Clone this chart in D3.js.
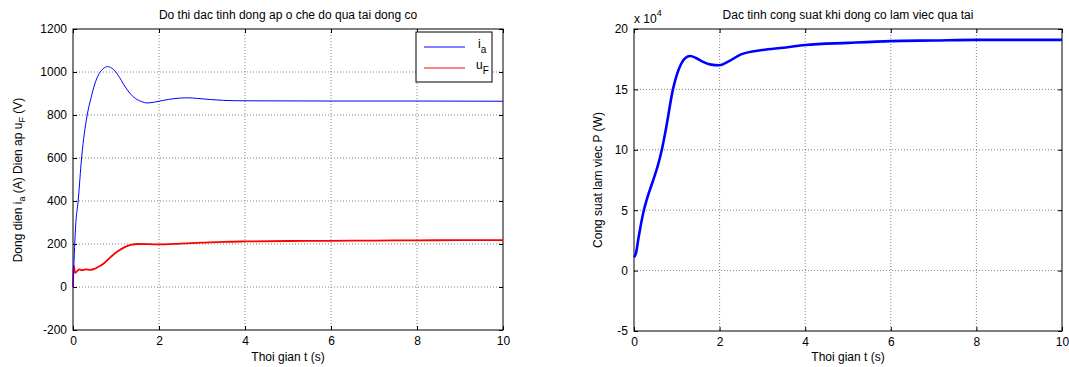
<!DOCTYPE html>
<meta charset="utf-8">
<style>
body { margin: 0; background: #fff; }
svg { display: block; font-family: "Liberation Sans", Arial, sans-serif; }
.grid line { stroke: #666; stroke-dasharray: 1,2; stroke-width: 0.8; }
.tick text { font-size: 12px; fill: #000; }
</style>
<body>
<script src="https://d3js.org/d3.v7.min.js"></script>
<script>

var width = 1069, height = 367;

// time axis ticks
var xTicks = [0, 2, 4, 6, 8, 10];

// left chart: current i_a (A) and voltage u_F (V)
var iaT = [0, 0.03, 0.06, 0.12, 0.2, 0.33, 0.42, 0.5, 0.6, 0.7, 0.8, 0.9, 1.05, 1.2, 1.4, 1.6, 1.72, 1.9, 2.1, 2.35, 2.65, 2.9, 3.2, 3.5, 4, 6, 8, 10];
var iaV = [0, 150, 280, 400, 600, 800, 880, 940, 990, 1015, 1025, 1018, 985, 935, 885, 862, 856, 860, 868, 876, 880, 877, 872, 868, 866, 865, 865, 864];
var uT = [0, 0.01, 0.02, 0.05, 0.1, 0.15, 0.2, 0.3, 0.4, 0.5, 0.6, 0.7, 0.8, 0.93, 1.05, 1.16, 1.27, 1.37, 1.5, 2, 2.5, 3, 3.5, 4, 5, 6, 7, 8, 9, 10];
var uV = [0, 100, 95, 66, 75, 82, 78, 82, 80, 84, 95, 107, 125, 149, 167, 181, 191, 197, 200, 198, 202, 206, 210, 212, 214, 215, 216, 217, 218, 218];
var leftYTicks = [-200, 0, 200, 400, 600, 800, 1000, 1200];

// right chart: power P (x 10^4 W)
var pT = [0, 0.05, 0.1, 0.15, 0.23, 0.3, 0.45, 0.55, 0.65, 0.75, 0.91, 1.0, 1.1, 1.2, 1.31, 1.45, 1.6, 1.8, 1.99, 2.2, 2.5, 3, 3.5, 4, 5, 6, 7, 8, 9, 10];
var pV = [1.1, 1.5, 2.6, 3.6, 5.0, 5.9, 7.5, 8.6, 10, 11.8, 15, 16.2, 17.1, 17.6, 17.76, 17.6, 17.3, 17.05, 17.0, 17.3, 17.9, 18.26, 18.45, 18.67, 18.85, 19.0, 19.05, 19.1, 19.1, 19.1];
var rightYTicks = [-5, 0, 5, 10, 15, 20];

var fmt = function(d) { return String(d); };

var svg = d3.select("body").append("svg")
    .attr("width", width)
    .attr("height", height);

function panel(x0, x1, y0, y1, yDomain, yTicks, title) {
  var x = d3.scaleLinear().domain([0, 10]).range([x0, x1]),
      y = d3.scaleLinear().domain(yDomain).range([y1, y0]);
  var g = svg.append("g");

  // grid
  var grid = g.append("g").attr("class", "grid");
  grid.selectAll(".gx").data(xTicks.slice(1, -1)).enter().append("line")
      .attr("x1", x).attr("x2", x).attr("y1", y0).attr("y2", y1);
  grid.selectAll(".gy").data(yTicks.slice(1, -1)).enter().append("line")
      .attr("y1", y).attr("y2", y).attr("x1", x0).attr("x2", x1);

  // axes with inward ticks
  g.append("g").attr("transform", "translate(0," + y1 + ")")
      .call(d3.axisBottom(x).tickValues(xTicks).tickFormat(fmt).tickSizeInner(-4).tickSizeOuter(0).tickPadding(6))
      .call(function(a) { a.select(".domain").remove(); });
  g.append("g").attr("transform", "translate(" + x0 + ",0)")
      .call(d3.axisLeft(y).tickValues(yTicks).tickFormat(fmt).tickSizeInner(-4).tickSizeOuter(0).tickPadding(6))
      .call(function(a) { a.select(".domain").remove(); });
  g.append("g").attr("transform", "translate(0," + y0 + ")")
      .call(d3.axisTop(x).tickValues(xTicks).tickSizeInner(-4).tickSizeOuter(0).tickFormat(""))
      .call(function(a) { a.select(".domain").remove(); });
  g.append("g").attr("transform", "translate(" + x1 + ",0)")
      .call(d3.axisRight(y).tickValues(yTicks).tickSizeInner(-4).tickSizeOuter(0).tickFormat(""))
      .call(function(a) { a.select(".domain").remove(); });
  g.selectAll(".tick line").attr("stroke", "#000");

  g.append("rect")
      .attr("x", x0).attr("y", y0)
      .attr("width", x1 - x0).attr("height", y1 - y0)
      .attr("fill", "none").attr("stroke", "#000").attr("stroke-width", 1);

  g.append("text")
      .attr("x", (x0 + x1) / 2).attr("y", 19)
      .attr("text-anchor", "middle").attr("font-size", 12)
      .text(title);

  g.append("text")
      .attr("x", (x0 + x1) / 2).attr("y", 361)
      .attr("text-anchor", "middle").attr("font-size", 12)
      .text("Thoi gian t (s)");

  return {x: x, y: y, g: g};
}

// left chart
var L = panel(73, 503, 29, 330, [-200, 1200], leftYTicks, "Do thi dac tinh dong ap o che do qua tai dong co");

var line = d3.line().curve(d3.curveMonotoneX);

L.g.append("path")
    .datum(uT.map(function(t, i) { return [L.x(t), L.y(uV[i])]; }))
    .attr("d", line)
    .attr("fill", "none").attr("stroke", "#ff0000").attr("stroke-width", 1.8);

L.g.append("path")
    .datum(iaT.map(function(t, i) { return [L.x(t), L.y(iaV[i])]; }))
    .attr("d", line)
    .attr("fill", "none").attr("stroke", "#0000ff").attr("stroke-width", 1);

// left y label
var yl = svg.append("text")
    .attr("transform", "translate(22,180) rotate(-90)")
    .attr("text-anchor", "middle").attr("font-size", 12);
yl.append("tspan").text("Dong dien i");
yl.append("tspan").attr("font-size", 9).attr("dy", 3).text("a");
yl.append("tspan").attr("dy", -3).text(" (A) Dien ap u");
yl.append("tspan").attr("font-size", 9).attr("dy", 3).text("F");
yl.append("tspan").attr("dy", -3).text(" (V)");

// legend
var lg = svg.append("g");
lg.append("rect").attr("x", 416).attr("y", 32).attr("width", 76).attr("height", 50)
    .attr("fill", "#fff").attr("stroke", "#000");
lg.append("line").attr("x1", 424).attr("x2", 465).attr("y1", 47).attr("y2", 47)
    .attr("stroke", "#0000ff");
lg.append("line").attr("x1", 424).attr("x2", 465).attr("y1", 68).attr("y2", 68)
    .attr("stroke", "#ff0000");
var t1 = lg.append("text").attr("x", 478).attr("y", 48).attr("font-size", 12);
t1.append("tspan").text("i");
t1.append("tspan").attr("font-size", 10).attr("dy", 5).text("a");
var t2 = lg.append("text").attr("x", 476).attr("y", 69).attr("font-size", 12);
t2.append("tspan").text("u");
t2.append("tspan").attr("font-size", 10).attr("dy", 5).text("F");

// right chart
var R = panel(634, 1062, 29, 331, [-5, 20], rightYTicks, "Dac tinh cong suat khi dong co lam viec qua tai");

R.g.append("path")
    .datum(pT.map(function(t, i) { return [R.x(t), R.y(pV[i])]; }))
    .attr("d", line)
    .attr("fill", "none").attr("stroke", "#0000ff").attr("stroke-width", 2.6);

var ex = svg.append("text").attr("x", 634).attr("y", 23).attr("font-size", 12);
ex.append("tspan").text("x 10");
ex.append("tspan").attr("font-size", 9).attr("dy", -7).text("4");

svg.append("text")
    .attr("transform", "translate(602,180) rotate(-90)")
    .attr("text-anchor", "middle").attr("font-size", 12)
    .text("Cong suat lam viec P (W)");

</script>
